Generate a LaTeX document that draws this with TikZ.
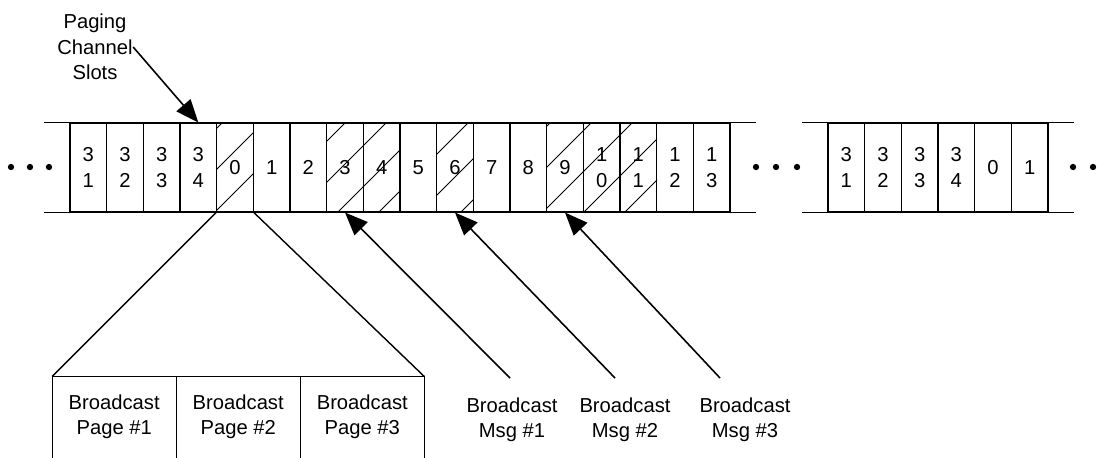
\documentclass[tikz,border=0pt]{standalone}
\usepackage{fontspec}
\setmainfont{Liberation Sans}
\usetikzlibrary{arrows.meta}
\usetikzlibrary{positioning}

\tikzset{
  slot/.style={draw, minimum width=0.7333cm, minimum height=1.78cm, inner sep=0pt, align=center, font=\fontsize{11.5}{14.5}\selectfont},
  txt/.style={align=center, inner sep=0pt, font=\fontsize{11.5}{14.5}\selectfont},
  pagebox/.style={txt, minimum width=2.46cm, minimum height=1.6cm},
  bigarrow/.style={-{Triangle[length=13pt,width=10.5pt]}, line width=0.9pt},
}

\begin{document}
\begin{tikzpicture}[x=0.02cm, y=-0.02cm, line width=0.6pt]
			\useasboundingbox (0,0) rectangle (1105,457);
			% first run of slots
			\foreach \lab [count=\i from 0] in {{3\\1},{3\\2},{3\\3},{3\\4},0,1,2,3,4,5,6,7,8,9,{1\\0},{1\\1},{1\\2},{1\\3}}
				\node[slot] (s\i) at ({88.33+36.667*\i},167.5) {\lab};
			% second run of slots
			\foreach \lab [count=\i from 0] in {{3\\1},{3\\2},{3\\3},{3\\4},0,1}
				\node[slot] (t\i) at ({846.33+36.667*\i},167.5) {\lab};
			% open ends
			\draw (s0.north west) -- ++(-25,0) (s0.south west) -- ++(-25,0);
			\draw (s17.north east) -- ++(25,0) (s17.south east) -- ++(25,0);
			\draw (t0.north west) -- ++(-25,0) (t0.south west) -- ++(-25,0);
			\draw (t5.north east) -- ++(25,0) (t5.south east) -- ++(25,0);
			% hatched slots
			\foreach \k in {4,7,8,10,13,14,15} {
				\begin{scope}
					\clip (s\k.south west) rectangle (s\k.north east);
					\foreach \c in {345,386,...,878}
						\draw[line width=0.5pt] ({\c-212},212) -- ({\c-123},123);
				\end{scope}
			}
			\foreach \x in {11,30,49,756,776,797,1073,1093}
				\fill (\x,167) circle[radius=1.8pt];
			% labels and arrows
			\node[txt] (pcs) at (95,47) {Paging\\Channel\\Slots};
			\draw[bigarrow] (pcs.east) -- (s3.north);
			\node[pagebox] (pg1) at (114.2,417) {Broadcast\\Page \#1};
			\node[pagebox, right=0pt of pg1] (pg2) {Broadcast\\Page \#2};
			\node[pagebox, right=0pt of pg2] (pg3) {Broadcast\\Page \#3};
			\draw (pg1.south west) -- (pg1.north west) -- (pg3.north east) -- (pg3.south east);
			\draw (pg1.north east) -- (pg1.south east) (pg2.north east) -- (pg2.south east);
			\draw[line width=0.8pt] (s4.south west) -- (pg1.north west) (s4.south east) -- (pg3.north east);
			\node[txt] (msg1) at (512,420) {Broadcast\\Msg \#1};
			\node[txt] (msg2) at (625,420) {Broadcast\\Msg \#2};
			\node[txt] (msg3) at (745,420) {Broadcast\\Msg \#3};
			\coordinate (m1) at (510,378);
			\coordinate (m2) at (615,378);
			\coordinate (m3) at (720,378);
			\draw[bigarrow] (m1) -- (s7.south);
			\draw[bigarrow] (m2) -- (s10.south);
			\draw[bigarrow] (m3) -- (s13.south);
		\end{tikzpicture}
\end{document}
